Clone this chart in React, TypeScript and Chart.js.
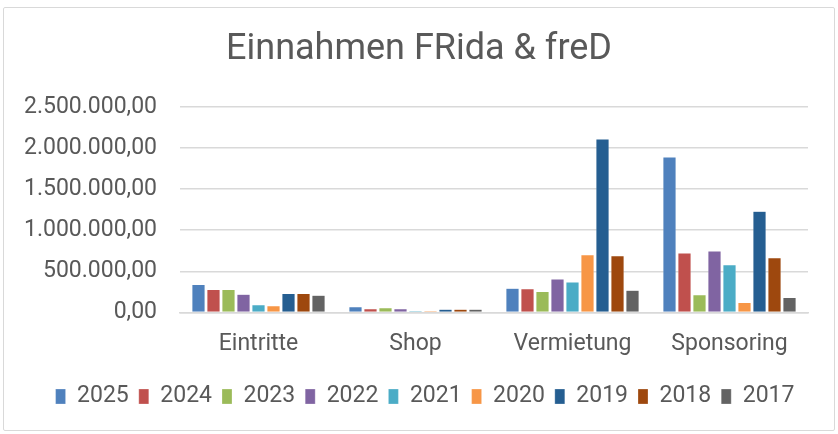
import React, { useEffect, useRef } from "react";
import { Chart, registerables } from "chart.js";

Chart.register(...registerables);

const categories = ["Eintritte", "Shop", "Vermietung", "Sponsoring"];
const years = ["2025", "2024", "2023", "2022", "2021", "2020", "2019", "2018", "2017"];
const v2025 = [340000, 70000, 295000, 1891000];
const v2024 = [279000, 45000, 287000, 722000];
const v2023 = [279000, 57000, 254000, 214000];
const v2022 = [221000, 45000, 406000, 746000];
const v2021 = [94000, 20000, 369000, 581000];
const v2020 = [82000, 20000, 701000, 121000];
const v2019 = [230000, 37000, 2110000, 1230000];
const v2018 = [230000, 37000, 689000, 665000];
const v2017 = [209000, 37000, 270000, 181000];
const seriesValues = [v2025, v2024, v2023, v2022, v2021, v2020, v2019, v2018, v2017];
const colors = ["#4F81BD", "#C0504D", "#9BBB59", "#8064A2", "#4BACC6", "#F79646", "#255E91", "#9E480E", "#636363"];
const chartTitle = "Einnahmen FRida & freD";
const yMax = 2500000;
const yStep = 500000;

const fmt = new Intl.NumberFormat("de-DE", { minimumFractionDigits: 2, maximumFractionDigits: 2 });

export default function App() {
  const ref = useRef<HTMLCanvasElement>(null);
  useEffect(() => {
    if (!ref.current) return;
    const font = "Roboto";
    const chart = new Chart(ref.current, {
      type: "bar",
      data: {
        labels: categories,
        datasets: years.map((y, i) => ({
          label: y,
          data: seriesValues[i],
          backgroundColor: colors[i],
          borderColor: "rgba(255,255,255,0.5)",
          borderWidth: 0.5,
          categoryPercentage: 0.86,
          barPercentage: 0.88,
        })),
      },
      options: {
        responsive: false,
        animation: false,
        layout: { padding: { left: 12, right: 0, top: 107, bottom: 16 } },
        plugins: {
          title: { display: false },
          legend: {
            position: "bottom",
            labels: {
              color: "#595959",
              font: { family: font, size: 23 },
              boxWidth: 10,
              boxHeight: 15,
              padding: 10,
            },
          },
          tooltip: { enabled: false },
        },
        scales: {
          x: {
            grid: { display: false },
            border: { color: "#D9D9D9", width: 1.5 },
            afterFit: (s: any) => { s.height += 7; },
            ticks: { color: "#595959", font: { family: font, size: 23 }, padding: 10 },
          },
          y: {
            min: 0,
            max: yMax,
            afterFit: (s: any) => { s.width = 168; },
            ticks: {
              stepSize: yStep,
              color: "#595959",
              font: { family: font, size: 23 },
              padding: 23,
              callback: (v: any) => fmt.format(Number(v)),
            },
            grid: { color: "#D9D9D9", lineWidth: 1.5, drawTicks: false },
            border: { display: false },
          },
          yRight: {
            position: "right",
            display: true,
            min: 0,
            max: yMax,
            afterFit: (s: any) => { s.width = 30; },
            ticks: { display: false },
            grid: { display: false, drawTicks: false },
            border: { display: false },
          },
        },
      },
    });
    return () => chart.destroy();
  }, []);
  return (
    <div style={{ position: "fixed", left: 0, top: 0, width: 838, height: 434, background: "#fff" }}>
      <canvas ref={ref} width={838} height={434} style={{ position: "absolute", left: 0, top: 0 }} />
      <div style={{ position: "absolute", left: 0, top: 27, width: 838, textAlign: "center", fontFamily: "Roboto", fontSize: 36, lineHeight: "40px", color: "#595959" }}>{chartTitle}</div>
      <div style={{ position: "absolute", left: 3, top: 7, width: 832, height: 424, border: "1.5px solid #D9D9D9", boxSizing: "border-box", borderRadius: 2, pointerEvents: "none" }} />
    </div>
  );
}
